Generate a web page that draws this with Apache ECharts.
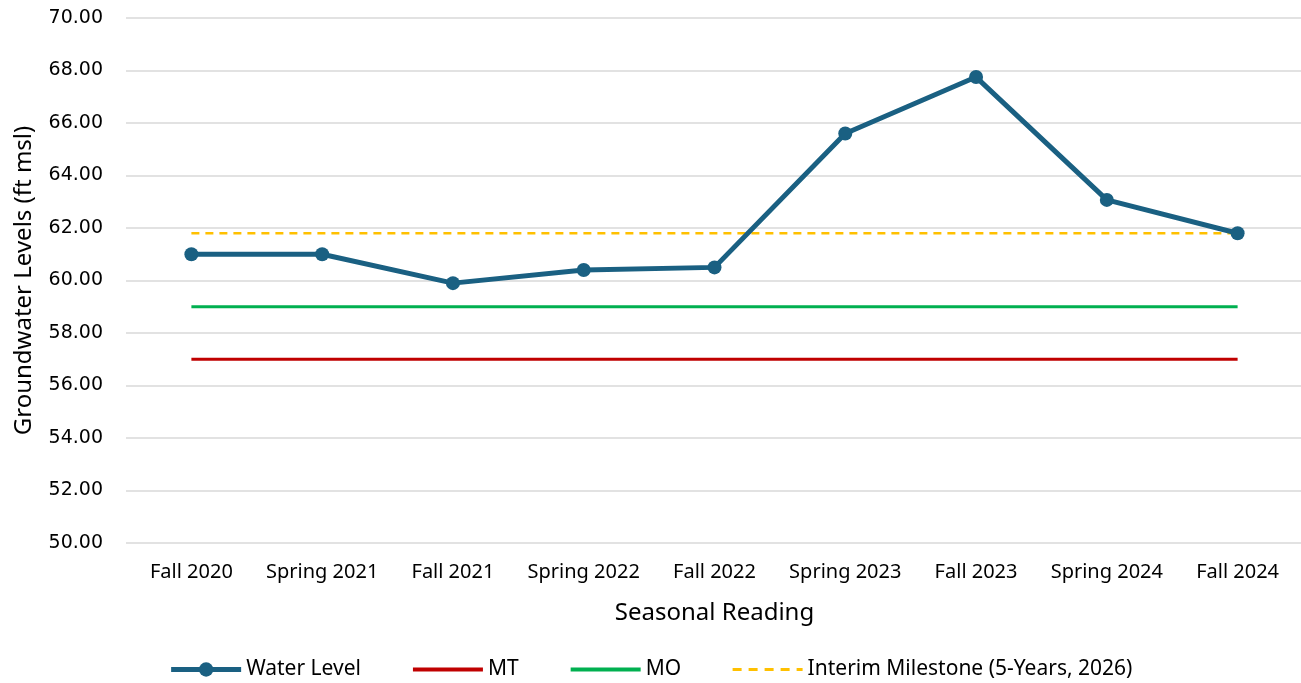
<!DOCTYPE html>
<html>
<head>
<meta charset="utf-8">
<script src="https://cdn.jsdelivr.net/npm/echarts@6/dist/echarts.min.js"></script>
<style>
  html, body { margin: 0; padding: 0; background: #fff; }
  #main { width: 1301px; height: 683px; }
</style>
</head>
<body>
<div id="main"></div>
<script>
// categories and values
var seasons = ['Fall 2020', 'Spring 2021', 'Fall 2021', 'Spring 2022', 'Fall 2022',
  'Spring 2023', 'Fall 2023', 'Spring 2024', 'Fall 2024'];
var waterLevel = [61.0, 61.0, 59.9, 60.4, 60.5, 65.6, 67.75, 63.07, 61.8];
var mtLevel = [57, 57, 57, 57, 57, 57, 57, 57, 57];
var moLevel = [59, 59, 59, 59, 59, 59, 59, 59, 59];
var milestone = [61.8, 61.8, 61.8, 61.8, 61.8, 61.8, 61.8, 61.8, 61.8];

var myChart = echarts.init(document.getElementById('main'));

var labelFont = '"Noto Sans", sans-serif';
// legend items without a point marker
var noMarker = { opacity: 0 };

myChart.setOption({
  animation: false,
  grid: {
    left: 126,
    right: -2,
    top: 18,
    bottom: 140,
    outerBoundsMode: 'none'
  },
  legend: {
    bottom: -2,
    left: 'center',
    itemWidth: 70,
    itemHeight: 18,
    itemGap: 50,
    textStyle: { fontFamily: labelFont, fontSize: 21, color: '#000' },
    data: [
      { name: 'Water Level', lineStyle: { width: 5 } },
      { name: 'MT', itemStyle: noMarker, lineStyle: { width: 4 } },
      { name: 'MO', itemStyle: noMarker, lineStyle: { width: 4 } },
      { name: 'Interim Milestone (5-Years, 2026)', itemStyle: noMarker, lineStyle: { width: 3, type: [9, 7] } }
    ]
  },
  xAxis: {
    type: 'category',
    data: seasons,
    boundaryGap: true,
    name: 'Seasonal Reading',
    nameLocation: 'middle',
    nameGap: 58,
    nameTextStyle: { fontFamily: labelFont, fontSize: 24, color: '#000' },
    axisLine: { show: false },
    axisTick: { show: false },
    axisLabel: { fontFamily: labelFont, fontSize: 20, color: '#000', margin: 19, interval: 0 }
  },
  yAxis: {
    type: 'value',
    min: 50,
    max: 70,
    interval: 2,
    name: 'Groundwater Levels (ft msl)',
    nameLocation: 'middle',
    nameGap: 90,
    nameTextStyle: { fontFamily: labelFont, fontSize: 24, color: '#000' },
    axisLine: { show: false },
    axisTick: { show: false },
    axisLabel: {
      fontFamily: '"DejaVu Sans", sans-serif',
      fontSize: 19,
      color: '#000',
      margin: 23,
      formatter: function (v) { return v.toFixed(2); }
    },
    splitLine: { lineStyle: { color: '#d9d9d9', width: 1.5 } }
  },
  series: [
    {
      name: 'Water Level',
      type: 'line',
      data: waterLevel,
      symbol: 'circle',
      symbolSize: 14,
      z: 5,
      itemStyle: { color: '#1A6082' },
      lineStyle: { color: '#1A6082', width: 5 }
    },
    {
      name: 'MT',
      type: 'line',
      data: mtLevel,
      symbol: 'none',
      itemStyle: { color: '#C00000' },
      lineStyle: { color: '#C00000', width: 3 }
    },
    {
      name: 'MO',
      type: 'line',
      data: moLevel,
      symbol: 'none',
      itemStyle: { color: '#00B050' },
      lineStyle: { color: '#00B050', width: 3 }
    },
    {
      name: 'Interim Milestone (5-Years, 2026)',
      type: 'line',
      data: milestone,
      symbol: 'none',
      itemStyle: { color: '#FFC000' },
      lineStyle: { color: '#FFC000', width: 2.5, type: [8, 6] }
    }
  ]
});
</script>
</body>
</html>
